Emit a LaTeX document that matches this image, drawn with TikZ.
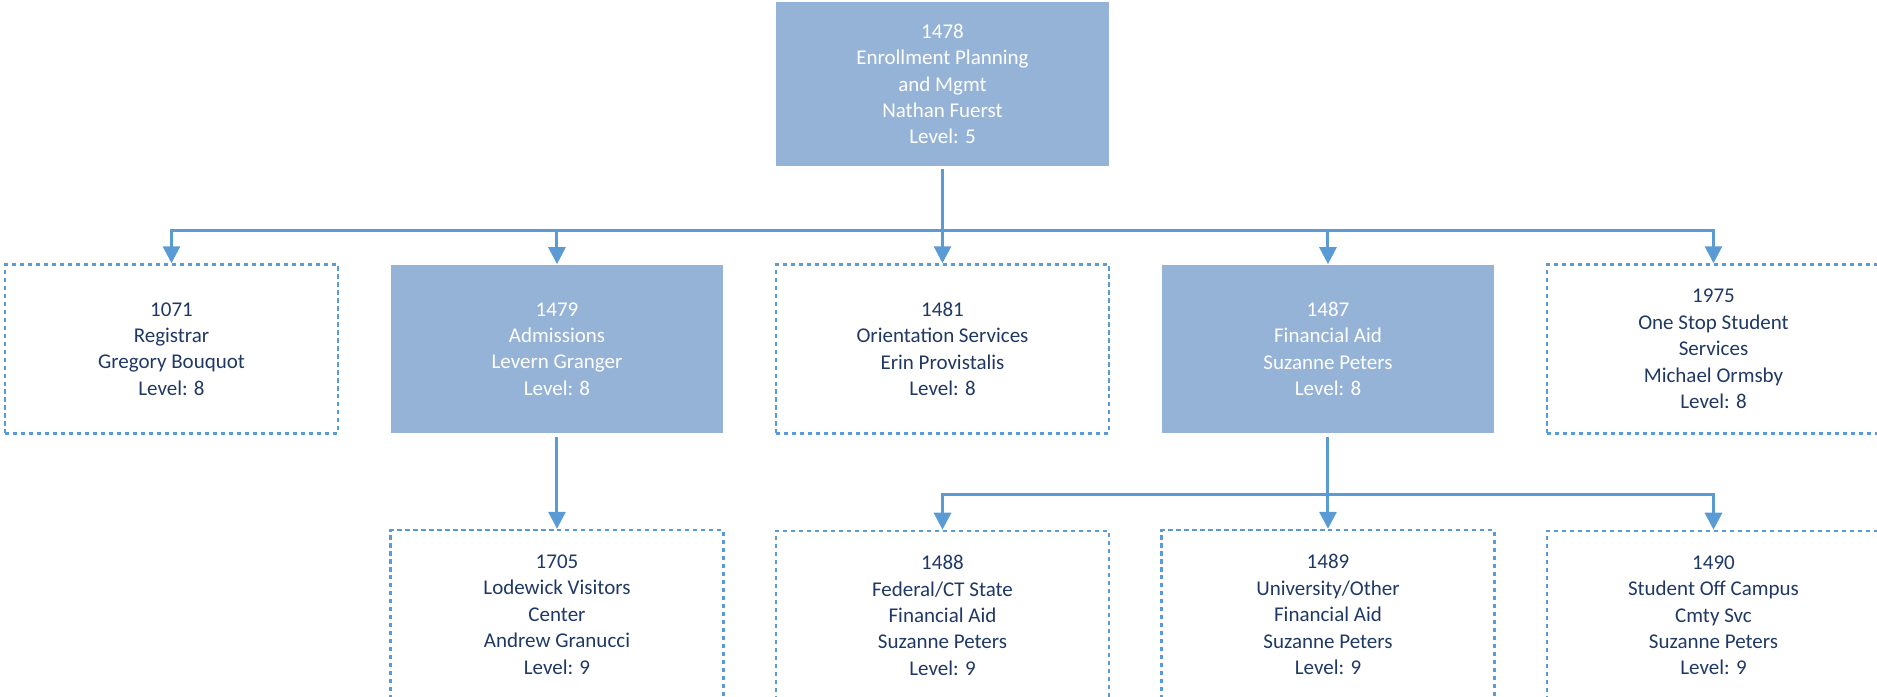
\documentclass[tikz,border=0pt]{standalone}
\usepackage{fontspec}
\setmainfont{Carlito}
\usetikzlibrary{arrows.meta, positioning, calc}
\definecolor{boxfill}{HTML}{95B3D7}
\definecolor{linkblue}{HTML}{5B9BD5}
\definecolor{navytext}{HTML}{1F3864}

\begin{document}
\begin{tikzpicture}[
      node distance = 48.5pt and 25.5pt,
      fullunit/.style = {fill=boxfill, minimum width=166.5pt, minimum height=84.5pt,
                         align=center, inner sep=0pt, text=white,
                         font=\fontsize{10.5}{13.2}\selectfont},
      openunit/.style = {draw=linkblue, line width=1.3pt, dash pattern=on 2.2pt off 1.8pt,
                         minimum width=166.5pt, minimum height=84.5pt,
                         align=center, inner sep=0pt, text=navytext,
                         font=\fontsize{10.5}{13.2}\selectfont},
      link/.style     = {-{Triangle[length=8.5pt, width=8.5pt]}, draw=linkblue,
                         line width=1.5pt},
    ]

    \useasboundingbox (-471.5pt,42pt) rectangle (467.5pt,-306.5pt);

    \node[fullunit, minimum height=82pt, minimum width=167pt] (n1478)
      {1478\\Enrollment Planning\\and Mgmt\\Nathan Fuerst\\Level: 5};

    % second row
    \node[openunit, below=of n1478]  (n1481) {1481\\Orientation Services\\Erin Provistalis\\Level: 8};
    \node[fullunit, left=of n1481]   (n1479) {1479\\Admissions\\Levern Granger\\Level: 8};
    \node[openunit, left=of n1479]   (n1071) {1071\\Registrar\\Gregory Bouquot\\Level: 8};
    \node[fullunit, right=of n1481]  (n1487) {1487\\Financial Aid\\Suzanne Peters\\Level: 8};
    \node[openunit, right=of n1487]  (n1975) {1975\\One Stop Student\\Services\\Michael Ormsby\\Level: 8};

    % third row
    \node[openunit, below=47.5pt of n1479] (n1705) {1705\\Lodewick Visitors\\Center\\Andrew Granucci\\Level: 9};
    \node[openunit, below=47.5pt of n1481] (n1488) {1488\\Federal/CT State\\Financial Aid\\Suzanne Peters\\Level: 9};
    \node[openunit, below=47.5pt of n1487] (n1489) {1489\\University/Other\\Financial Aid\\Suzanne Peters\\Level: 9};
    \node[openunit, below=47.5pt of n1975] (n1490) {1490\\Student Off Campus\\Cmty Svc\\Suzanne Peters\\Level: 9};

    \coordinate (bus1) at ($(n1478.south)+(0,-32pt)$);
    \coordinate (bus2) at ($(n1487.south)+(0,-30.5pt)$);

    \draw[link, shorten <=1.5pt] (n1478.south) -- (n1481.north);
    \draw[link] (bus1) -| (n1071.north);
    \draw[link] (bus1) -| (n1479.north);
    \draw[link] (bus1) -| (n1487.north);
    \draw[link] (bus1) -| (n1975.north);

    \draw[link, shorten <=1.5pt] (n1479.south) -- (n1705.north);
    \draw[link, shorten <=1.5pt] (n1487.south) -- (n1489.north);
    \draw[link] (bus2) -| (n1488.north);
    \draw[link] (bus2) -| (n1490.north);

  \end{tikzpicture}
\end{document}
